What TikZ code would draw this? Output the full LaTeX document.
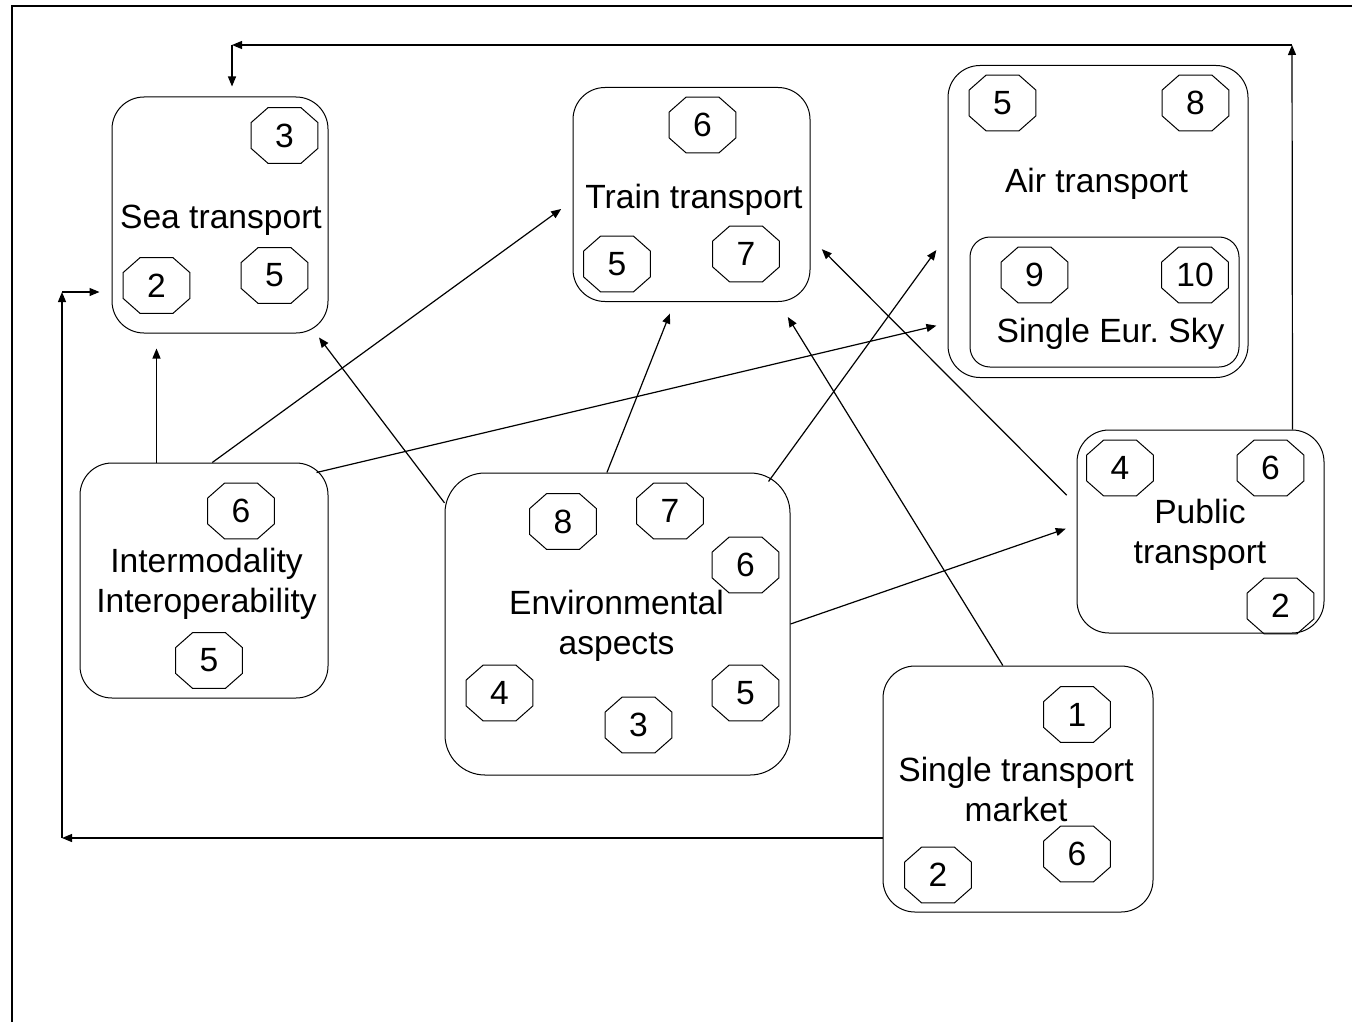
\documentclass[tikz,border=0pt]{standalone}
\usepackage{fontspec}
\setmainfont{Liberation Sans}
\usetikzlibrary{arrows.meta}

\begin{document}
\begin{tikzpicture}[x=0.5pt,y=-0.5pt,>={Triangle[length=5pt,width=4pt]},
    box/.style={draw,line width=0.5pt,rounded corners=16pt,inner sep=0pt},
    oct/.style={inner sep=0pt,minimum width=33pt,minimum height=27.5pt,font=\fontsize{16.8}{20}\selectfont,
      append after command={\pgfextra{\draw[line width=0.5pt]
        ([xshift=8.5pt]\tikzlastnode.north west) -- ([xshift=-8.5pt]\tikzlastnode.north east)
        -- ([yshift=-7.5pt]\tikzlastnode.north east) -- ([yshift=7.5pt]\tikzlastnode.south east)
        -- ([xshift=-8.5pt]\tikzlastnode.south east) -- ([xshift=8.5pt]\tikzlastnode.south west)
        -- ([yshift=7.5pt]\tikzlastnode.south west) -- ([yshift=-7.5pt]\tikzlastnode.north west) -- cycle;}}},
    lbl/.style={align=center,inner sep=0pt,font=\fontsize{16.8}{20}\selectfont},
    link/.style={->,line width=0.6pt}]
    \useasboundingbox (0,0) rectangle (1352,1022);
    \draw[line width=1pt] (12,1022) -- (12,6) -- (1352,6);

    \node[box,minimum width=108pt,minimum height=118pt] (sea) at (220,215) {};
    \node[box,minimum width=118.5pt,minimum height=107pt] (train) at (691.5,194.5) {};
    \node[box,minimum width=150pt,minimum height=156pt] (air) at (1098,221.5) {};
    \node[box,rounded corners=10pt,minimum width=134.5pt,minimum height=65pt] (sky) at (1104.5,302) {};
    \node[box,minimum width=124pt,minimum height=117.5pt] (inter) at (204,580.5) {};
    \node[box,rounded corners=20pt,minimum width=172.5pt,minimum height=151pt] (env) at (617.5,624) {};
    \node[box,minimum width=123.5pt,minimum height=101.5pt] (public) at (1200.5,531.5) {};
    \node[box,minimum width=135pt,minimum height=123pt] (market) at (1018,789) {};

    \node[lbl,anchor=base] (seaL) at (221,228) {Sea transport};
    \node[lbl,anchor=base] (trainL) at (694,208) {Train transport};
    \node[lbl,anchor=base] (airL) at (1096.5,192) {Air transport};
    \node[lbl,anchor=base] (skyL) at (1110.5,342) {Single Eur.\ Sky};
    \node[lbl] (interL) at (206.5,584) {Intermodality\\Interoperability};
    \node[lbl] (envL) at (616.5,626) {Environmental\\aspects};
    \node[lbl] (publicL) at (1200,535) {Public\\transport};
    \node[lbl] (marketL) at (1016,789) {Single transport\\market};

    \node[oct] (sea3) at (284.5,135.5) {3};
    \node[oct] (sea2) at (156.5,285.5) {2};
    \node[oct] (sea5) at (274.5,275.5) {5};
    \node[oct] (train6) at (702.5,125) {6};
    \node[oct] (train5) at (617,264) {5};
    \node[oct] (train7) at (746,254) {7};
    \node[oct] (air5) at (1002.5,103) {5};
    \node[oct] (air8) at (1195.5,103) {8};
    \node[oct] (sky9) at (1034.5,275) {9};
    \node[oct] (sky10) at (1195,275) {10};
    \node[oct] (inter6) at (241,511) {6};
    \node[oct] (inter5) at (209,660.5) {5};
    \node[oct] (env8) at (563,521.5) {8};
    \node[oct] (env7) at (670,511) {7};
    \node[oct] (env6) at (745.5,565) {6};
    \node[oct] (env4) at (499.5,693) {4};
    \node[oct] (env3) at (638.5,725) {3};
    \node[oct] (env5) at (745.5,693) {5};
    \node[oct] (pub4) at (1120,468) {4};
    \node[oct] (pub6) at (1270.5,468) {6};
    \node[oct] (pub2) at (1280.5,606) {2};
    \node[oct] (mkt1) at (1077,714.5) {1};
    \node[oct] (mkt6) at (1077,854) {6};
    \node[oct] (mkt2) at (938,875) {2};

    \coordinate (topR) at (1292,45);
    \coordinate (topL) at (232,45);
    \coordinate (botL) at (62,838);
    \coordinate (midL) at (62,292);

    \draw[link,shorten >=7.5pt] (sea2 |- inter.north) -- (sea2 |- sea.south);
    \draw[link,shorten >=7pt] (inter.86) -- (train.183);
    \draw[link,shorten >=5.7pt] ([shift={(-6pt,-5pt)}]inter.north east) -- (air.214);
    \draw[link,shorten >=2.5pt] (env.145) -- (sea.309);
    \draw[link,shorten >=6.2pt] (env.94) -- (train.261);
    \draw[link,shorten >=9.5pt] ([shift={(-11pt,-4.5pt)}]env.north east) -- (air.185);
    \draw[link,shorten >=5.7pt] (env.east) -- (public.177);
    \draw[link,shorten >=8.8pt] (market.97) -- (train.309);
    \draw[link,shorten <=7pt,shorten >=8pt] (public.168) -- (train.340);

    \draw[link] ([xshift=-16pt]public.north east) -- (topR);
    \draw[link] (topR) -- (topL);
    \draw[link,shorten >=5pt] (topL) -- (topL |- sea.north);
    \draw[link] (market.west |- botL) -- (botL);
    \draw[link] (botL) -- (midL);
    \draw[link,shorten >=6pt] (midL) -- (midL -| sea.west);
\end{tikzpicture}
\end{document}
